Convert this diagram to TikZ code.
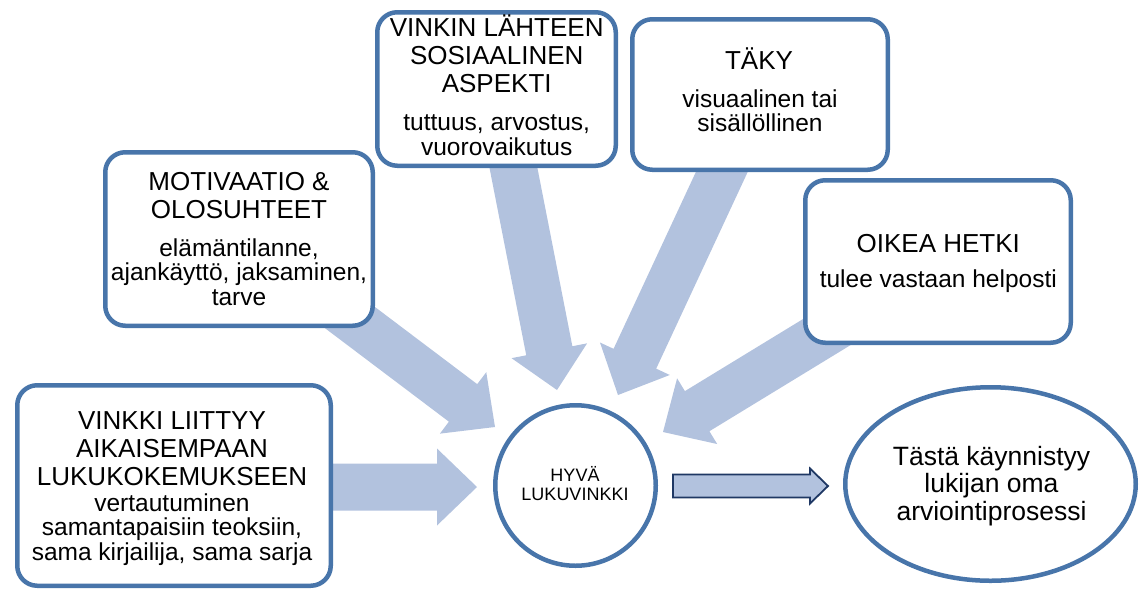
\documentclass[tikz,border=0pt]{standalone}
\usepackage{fontspec}
\setmainfont{Liberation Sans}
\usetikzlibrary{calc,shapes.geometric}
\definecolor{boxline}{RGB}{72,117,170}
\definecolor{arrfill}{RGB}{178,194,222}
\definecolor{navy}{RGB}{31,56,100}
\newcommand\fatarrow[7]{%
  \coordinate (#1b) at ($(#4)!#7!(#3)$);
  \path[#2] ($(#3)!#5!90:(#4)$) -- ($(#1b)!#5!90:(#4)$) -- ($(#1b)!#6!90:(#4)$) -- (#4)
    -- ($(#1b)!#6!-90:(#4)$) -- ($(#1b)!#5!-90:(#4)$) -- ($(#3)!#5!-90:(#4)$) -- cycle;}
\begin{document}
\begin{tikzpicture}[x=0.5pt,y=-0.5pt,
  infobox/.style={draw=boxline, line width=2.25pt, rounded corners=10pt, fill=white, inner sep=0pt},
  ttl/.style={align=center, inner sep=0pt, font=\fontsize{13}{14}\selectfont},
  sub/.style={align=center, inner sep=0pt, font=\fontsize{12.25}{12.25}\selectfont},
  bigarrow/.style={fill=arrfill},
  smallarrow/.style={fill=arrfill, draw=navy, line width=0.9pt, line join=miter}]
\useasboundingbox (0,0) rectangle (1140,590);
% arrow anchors
\coordinate (sA) at (320,487);   \coordinate (tA) at (477,487);
\coordinate (sE) at (330,302.5); \coordinate (tE) at (495,427);
\coordinate (sB) at (507,135);   \coordinate (tB) at (557,390);
\coordinate (sC) at (732,150);   \coordinate (tC) at (618,395);
\coordinate (sD) at (840,324);   \coordinate (tD) at (663,432);
\fatarrow{aA}{bigarrow}{sA}{tA}{11.75pt}{19.25pt}{20pt}
\fatarrow{aE}{bigarrow}{sE}{tE}{11.75pt}{19.25pt}{20pt}
\fatarrow{aB}{bigarrow}{sB}{tB}{11.75pt}{19.25pt}{20pt}
\fatarrow{aC}{bigarrow}{sC}{tC}{11.75pt}{19.25pt}{20pt}
\fatarrow{aD}{bigarrow}{sD}{tD}{11.75pt}{19.25pt}{20pt}
% boxes
\node[infobox, minimum width=156.75pt, minimum height=100.25pt] (box1) at (174,485.5) {};
\node[infobox, minimum width=133.75pt, minimum height=86.75pt] (box2) at (239,239) {};
\node[infobox, minimum width=119.25pt, minimum height=76.75pt] (box3) at (496.5,89) {};
\node[infobox, minimum width=127.75pt, minimum height=75.25pt] (box4) at (760,94.5) {};
\node[infobox, minimum width=132.75pt, minimum height=81.25pt] (box5) at (938,261.5) {};
% texts
\node[ttl] (t1) at (172,448.7) {VINKKI LIITTYY\\AIKAISEMPAAN\\LUKUKOKEMUKSEEN};
\node[sub] (s1) at (172,529.6) {vertautuminen\\samantapaisiin teoksiin,\\sama kirjailija, sama sarja};
\node[ttl] (t2) at (239,195.7) {MOTIVAATIO \&\\OLOSUHTEET};
\node[sub] (s2) at (239,272) {elämäntilanne,\\ajankäyttö, jaksaminen,\\tarve};
\node[ttl] (t3) at (496.7,53.7) {VINKIN LÄHTEEN\\SOSIAALINEN\\ASPEKTI};
\node[sub] (s3) at (496.7,135) {tuttuus, arvostus,\\vuorovaikutus};
\node[ttl] (t4) at (759,58.7) {TÄKY};
\node[sub] (s4) at (760,110.5) {visuaalinen tai\\sisällöllinen};
\node[ttl] (t5) at (938.3,243.7) {OIKEA HETKI};
\node[sub] (s5) at (938.3,281.6) {tulee vastaan helposti};
% centre circle
\node[circle, draw=boxline, line width=2.25pt, fill=white, minimum size=80.25pt, inner sep=0pt] (hub) at (575.5,485.5) {};
\node[align=center, inner sep=0pt, font=\fontsize{9}{9.5}\selectfont] (hubtxt) at (575,483.5) {HYVÄ\\LUKUVINKKI};
% ellipse
\node[ellipse, draw=boxline, line width=2.25pt, fill=white, minimum width=145.25pt, minimum height=96.75pt, inner sep=0pt] (goal) at (990.5,484) {};
\node[align=center, inner sep=0pt, font=\fontsize{13.25}{13.75}\selectfont] (goaltxt) at (991.5,485.8) {Tästä käynnistyy\\lukijan oma\\arviointiprosessi};
% small arrow from hub to goal
\coordinate (sS) at (673,486); \coordinate (tS) at (828,486);
\fatarrow{aS}{smallarrow}{sS}{tS}{5.75pt}{8.75pt}{9pt}
\end{tikzpicture}
\end{document}
